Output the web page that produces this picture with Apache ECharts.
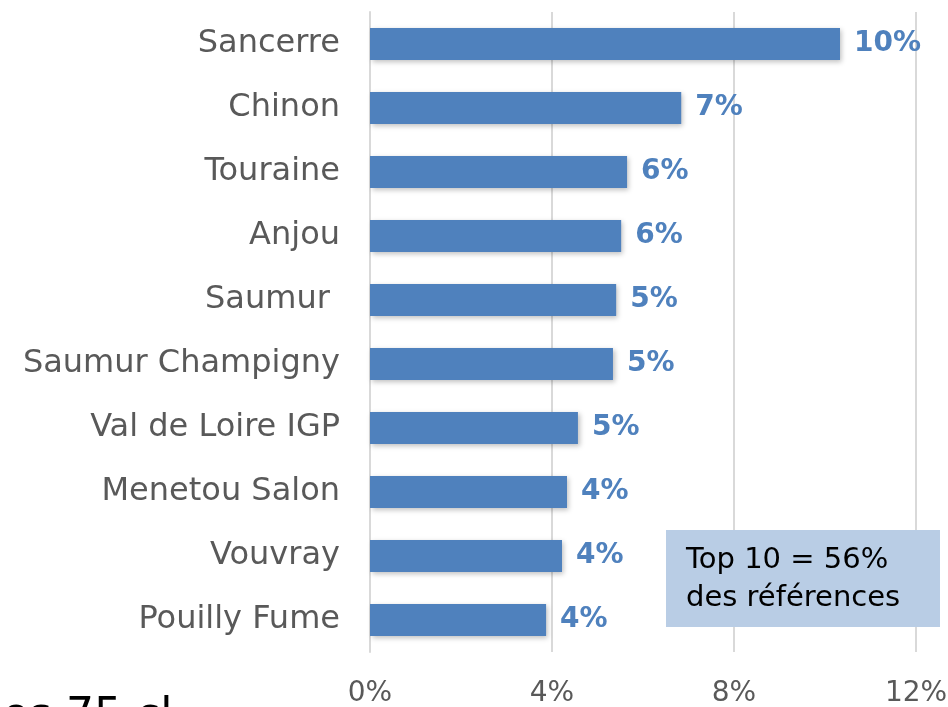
<!DOCTYPE html>
<html>
<head>
<meta charset="utf-8">
<script src="https://cdn.jsdelivr.net/npm/echarts@6/dist/echarts.min.js"></script>
<style>
  html, body { margin: 0; padding: 0; background: #fff; }
  #chart { width: 948px; height: 707px; }
</style>
</head>
<body>
<div id="chart"></div>
<script>
const categories = [
  "Sancerre", "Chinon", "Touraine", "Anjou", "Saumur ",
  "Saumur Champigny", "Val de Loire IGP", "Menetou Salon", "Vouvray", "Pouilly Fume"
];
const shares = [10.33, 6.84, 5.65, 5.52, 5.41, 5.34, 4.57, 4.33, 4.22, 3.87];
const xTicks = [0, 4, 8, 12];
const noteLines = ["Top 10 = 56%", "des références"];

const font = "DejaVu Sans";
const blue = "#4F81BD";

const chart = echarts.init(document.getElementById("chart"));

chart.setOption({
  animation: false,
  grid: { left: 370, right: 32, top: 12, bottom: 55, containLabel: false, outerBoundsMode: "none" },
  xAxis: {
    type: "value",
    min: xTicks[0],
    max: xTicks[xTicks.length - 1],
    interval: 4,
    axisLine: { show: false },
    axisTick: { show: false },
    splitLine: { lineStyle: { color: "#D9D9D9", width: 2 } },
    axisLabel: {
      formatter: v => v + "%",
      color: "#595959",
      fontFamily: font,
      fontSize: 28,
      margin: 28
    }
  },
  yAxis: {
    type: "category",
    inverse: true,
    data: categories,
    axisLine: { show: true, lineStyle: { color: "#D9D9D9", width: 2 } },
    axisTick: { show: false },
    axisLabel: {
      color: "#595959",
      fontFamily: font,
      fontSize: 32,
      margin: 30
    }
  },
  series: [{
    type: "bar",
    data: shares,
    barWidth: 32,
    itemStyle: {
      color: blue,
      shadowColor: "rgba(0,0,0,0.25)",
      shadowBlur: 5,
      shadowOffsetX: 2,
      shadowOffsetY: 2
    },
    label: {
      show: true,
      position: "right",
      distance: 14,
      formatter: p => Math.round(p.value) + "%",
      color: blue,
      fontFamily: font,
      fontWeight: "bold",
      fontSize: 28
    }
  }],
  graphic: [
    {
      type: "rect",
      z: 100,
      left: 666, top: 530,
      shape: { width: 274, height: 97 },
      style: { fill: "#B9CDE5" }
    },
    {
      type: "text",
      z: 101,
      left: 686, top: 541,
      style: {
        text: noteLines.join("\n"),
        fill: "#000",
        font: "29px " + font,
        lineHeight: 38
      }
    },
    {
      type: "text",
      z: 101,
      left: 2, top: 696,
      style: { text: "es 75 cl", fill: "#000", font: "44px " + font }
    }
  ]
});
</script>
</body>
</html>
